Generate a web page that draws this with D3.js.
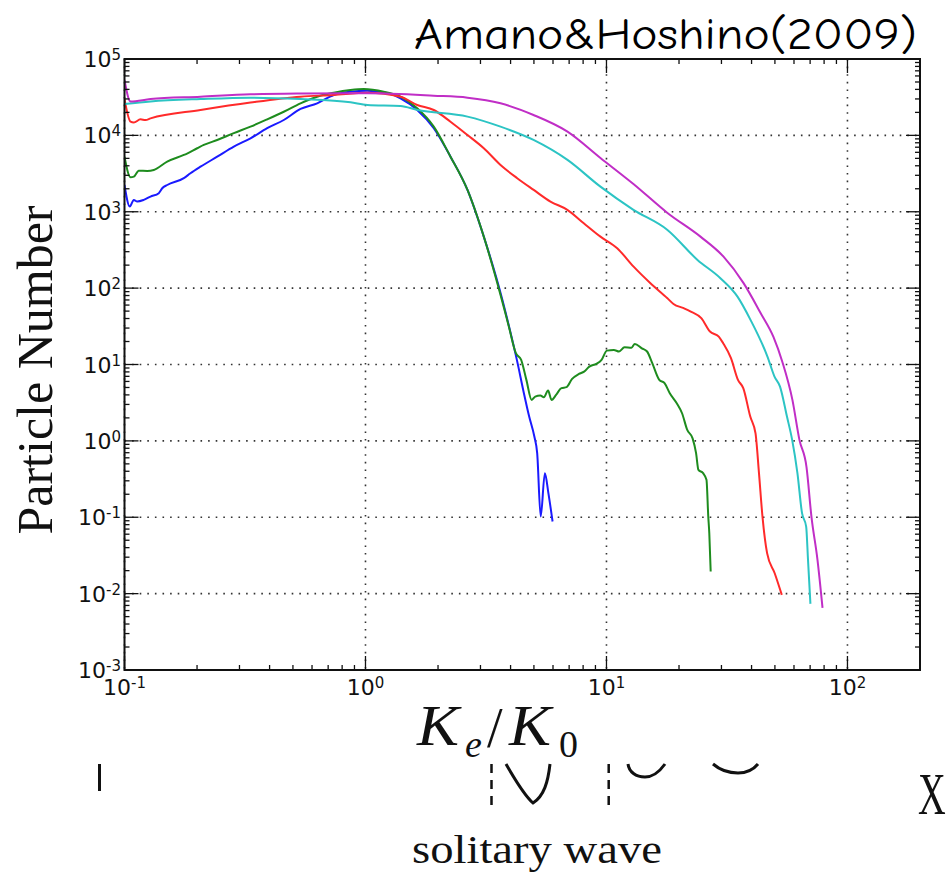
<!DOCTYPE html>
<html>
<head>
<meta charset="utf-8">
<script src="https://cdn.jsdelivr.net/npm/d3@7"></script>
<style>
  body { margin: 0; background: #fff; }
  svg { display: block; }
</style>
</head>
<body>
<svg id="chart" width="949" height="872"></svg>
<script>
// electron energy spectra (K_e/K_0, particle number)
const blueSeries = [
  [0.1, 2240], [0.1052, 1170], [0.1093, 1430], [0.1129, 1360], [0.1202, 1430],
  [0.1282, 1580], [0.1388, 1750], [0.1434, 2030], [0.1504, 2240], [0.1763, 2750],
  [0.1878, 3190], [0.2067, 3890], [0.2425, 5260], [0.2842, 7120], [0.3333, 9160],
  [0.3909, 12400], [0.4581, 15900], [0.5375, 22200], [0.6302, 26300], [0.7389, 33800],
  [0.8666, 37300], [1.016, 38500], [1.191, 36650], [1.397, 30600], [1.639, 21500],
  [1.92, 12400], [2.253, 5260], [2.65, 1930], [3.097, 472], [3.70, 70],
  [3.973, 28.4], [4.248, 11.5], [4.543, 4.21], [4.778, 2.08], [5.02, 1.14],
  [5.158, 0.69], [5.334, 0.102], [5.551, 0.378], [5.741, 0.207], [5.975, 0.088]
];
const greenSeries = [
  [0.1, 5260], [0.1059, 2830], [0.1093, 2880], [0.1146, 3450], [0.1242, 3420],
  [0.1323, 3520], [0.1504, 4530], [0.1763, 5540], [0.2003, 6780], [0.2133, 7490],
  [0.2425, 8710], [0.2842, 10700], [0.3333, 13000], [0.3909, 16200], [0.4581, 20400],
  [0.5375, 26300], [0.6302, 32100], [0.7389, 36200], [0.8666, 39300], [0.9838, 40500],
  [1.191, 37300], [1.397, 32100], [1.639, 22600], [1.92, 13000], [2.253, 5260],
  [2.65, 1930], [3.097, 472], [3.681, 70.1], [3.936, 31.3], [4.207, 14.1],
  [4.426, 11.5], [4.652, 6.29], [4.894, 3.44], [5.06, 3.80], [5.317, 3.92],
  [5.498, 3.73], [5.724, 4.55], [5.918, 3.44], [6.178, 4.0], [6.50, 4.90],
  [6.83, 5.05], [7.186, 6.42], [7.686, 7.53], [8.077, 8.07], [8.49, 9.39],
  [9.08, 10.2], [9.54, 11.5], [10.04, 15.2], [10.73, 15.5], [11.28, 14.8],
  [11.88, 16.8], [12.70, 16.6], [13.11, 18.6], [14.02, 16.3], [14.74, 14.8],
  [15.49, 10.4], [16.56, 6.29], [17.42, 5.69], [18.31, 4.21], [19.57, 3.11],
  [20.59, 2.30], [21.64, 1.39], [22.77, 1.08], [23.54, 0.69], [24.08, 0.417],
  [25.17, 0.378], [26.0, 0.309], [26.45, 0.102], [26.71, 0.0619], [27.07, 0.0195]
];
const redSeries = [
  [0.1, 29700], [0.1059, 15100], [0.1093, 14700], [0.1165, 16200], [0.1222, 15900],
  [0.1282, 16700], [0.2067, 21500], [0.3333, 26900], [0.5375, 32100], [0.736, 33800],
  [1.019, 36200], [1.397, 32100], [1.639, 25000], [1.92, 21500], [2.253, 15100],
  [2.65, 10100], [3.097, 6780], [3.634, 4100], [4.262, 2750], [4.99, 1930],
  [5.855, 1360], [6.88, 1060], [8.05, 707], [9.44, 472], [11.08, 333],
  [12.96, 191], [15.22, 116], [17.9, 73.8], [18.97, 62.1], [20.93, 54.6],
  [22.38, 49.3], [24.74, 40.4], [26.89, 27.0], [29.24, 23.2], [30.5, 19.0],
  [32.86, 12.1], [35.13, 6.29], [36.95, 4.90], [39.51, 2.08], [41.53, 1.26],
  [42.94, 0.378], [44.4, 0.102], [46.4, 0.0339], [49.9, 0.0185], [53.4, 0.00964]
];
const cyanSeries = [
  [0.1, 25800], [0.1282, 27800], [0.2067, 29900], [0.3333, 31200], [0.5375, 29900],
  [0.8666, 27100], [1.019, 25000], [1.397, 24300], [1.644, 21500], [2.65, 17600],
  [3.634, 13000], [4.98, 8710], [6.89, 4770], [9.44, 2130], [12.94, 1060],
  [17.91, 578], [23.86, 234], [29.7, 135], [34.97, 77.4], [39.6, 38.4],
  [46.6, 12.6], [49.8, 6.95], [52.5, 5.14], [56.1, 2.08], [58.96, 1.03],
  [62.0, 0.378], [64.8, 0.113], [67.4, 0.0755], [68.6, 0.0277], [70.2, 0.00735]
];
const magentaSeries = [
  [0.1, 53100], [0.1059, 27800], [0.1282, 29900], [0.2067, 32100], [0.3333, 34500],
  [0.5375, 35300], [1.019, 35600], [1.915, 33100], [2.65, 31200], [3.634, 26300],
  [4.98, 18500], [6.89, 11200], [9.44, 5060], [12.94, 2310], [17.91, 964],
  [24.55, 472], [30.6, 258], [37.0, 117], [43.6, 47.3], [49.3, 23.0],
  [53.7, 10.8], [59.1, 3.44], [63.2, 1.03], [67.6, 0.457], [70.9, 0.101],
  [75.1, 0.0277], [78.8, 0.00652]
];
const seriesColors = ["#1a1aff", "#1e8c1e", "#ff2a2a", "#2cc4c4", "#c02ec6"];
const xDomain = [0.1, 200];
const yDomain = [1e-3, 1e5];

const titleText = "Amano&Hoshino(2009)";
const yLabelText = "Particle Number";
const sketchNote = "solitary wave";

const svg = d3.select("#chart");
const plot = { left: 124.5, right: 920, top: 59, bottom: 670 };

const x = d3.scaleLog().domain(xDomain).range([plot.left, plot.right]);
const y = d3.scaleLog().domain(yDomain).range([plot.bottom, plot.top]);

const isMajor = (v) => Math.abs(Math.log10(v) - Math.round(Math.log10(v))) < 1e-9;

// dotted grid at the decades
const grid = svg.append("g").attr("stroke", "#333").attr("stroke-width", 1.6)
  .attr("stroke-dasharray", "1.6,6");
x.ticks().filter(isMajor).forEach((v) => {
  grid.append("line").attr("x1", x(v)).attr("x2", x(v))
    .attr("y1", plot.top).attr("y2", plot.bottom);
});
y.ticks().filter(isMajor).forEach((v) => {
  grid.append("line").attr("x1", plot.left).attr("x2", plot.right)
    .attr("y1", y(v)).attr("y2", y(v));
});

// spectra
svg.append("clipPath").attr("id", "plotclip").append("rect")
  .attr("x", plot.left).attr("y", plot.top)
  .attr("width", plot.right - plot.left).attr("height", plot.bottom - plot.top);

const line = d3.line()
  .x((d) => x(d[0]))
  .y((d) => y(d[1]))
  .curve(d3.curveMonotoneX);

const allSeries = [blueSeries, greenSeries, redSeries, cyanSeries, magentaSeries];
svg.append("g").attr("clip-path", "url(#plotclip)")
  .selectAll("path").data(allSeries).join("path")
  .attr("d", line)
  .attr("fill", "none")
  .attr("stroke", (d, i) => seriesColors[i])
  .attr("stroke-width", 2)
  .attr("stroke-linejoin", "round");

// inward ticks on all four sides
const ticks = svg.append("g").attr("stroke", "#111").attr("stroke-width", 1.3);
x.ticks().forEach((v) => {
  const len = isMajor(v) ? 14 : 5;
  const px = x(v);
  ticks.append("line").attr("x1", px).attr("x2", px).attr("y1", plot.bottom).attr("y2", plot.bottom - len);
  ticks.append("line").attr("x1", px).attr("x2", px).attr("y1", plot.top).attr("y2", plot.top + len);
});
y.ticks().forEach((v) => {
  const len = isMajor(v) ? 14 : 5;
  const py = y(v);
  ticks.append("line").attr("x1", plot.left).attr("x2", plot.left + len).attr("y1", py).attr("y2", py);
  ticks.append("line").attr("x1", plot.right).attr("x2", plot.right - len).attr("y1", py).attr("y2", py);
});

// frame
svg.append("rect")
  .attr("x", plot.left).attr("y", plot.top)
  .attr("width", plot.right - plot.left).attr("height", plot.bottom - plot.top)
  .attr("fill", "none").attr("stroke", "#111").attr("stroke-width", 2);

// tick labels: 10 with a raised exponent
function powerLabel(g, v, px, py, anchor) {
  const t = g.append("text").attr("x", px).attr("y", py)
    .attr("text-anchor", anchor)
    .attr("font-family", "'DejaVu Sans', sans-serif")
    .attr("font-size", 22).attr("fill", "#111");
  t.append("tspan").text("10");
  t.append("tspan").attr("dy", -7).attr("font-size", 15)
    .text(String(Math.round(Math.log10(v))));
}
const labels = svg.append("g");
x.ticks().filter(isMajor).forEach((v) => powerLabel(labels, v, x(v), 695, "middle"));
y.ticks().filter(isMajor).forEach((v) => powerLabel(labels, v, 121, y(v) + 8, "end"));

// axis titles
svg.append("text")
  .attr("transform", "translate(52,370) rotate(-90)")
  .attr("text-anchor", "middle")
  .attr("font-family", "'Liberation Serif', 'Times New Roman', serif")
  .attr("font-size", 50).attr("fill", "#111")
  .text(yLabelText);

const xl = svg.append("g").attr("font-family", "'Liberation Serif', 'Times New Roman', serif")
  .attr("fill", "#111");
xl.append("text").attr("x", 417).attr("y", 745).attr("font-size", 56)
  .attr("font-style", "italic").attr("textLength", 42).attr("lengthAdjust", "spacingAndGlyphs").text("K");
xl.append("text").attr("x", 465).attr("y", 757).attr("font-size", 38)
  .attr("font-style", "italic").text("e");
xl.append("text").attr("x", 487).attr("y", 747).attr("font-size", 56).text("/");
xl.append("text").attr("x", 509).attr("y", 745).attr("font-size", 56)
  .attr("font-style", "italic").attr("textLength", 42).attr("lengthAdjust", "spacingAndGlyphs").text("K");
xl.append("text").attr("x", 559).attr("y", 757).attr("font-size", 38).text("0");

// title
svg.append("text")
  .attr("x", 414).attr("y", 49)
  .attr("font-family", "'Comic Sans MS', 'Comic Neue', 'DejaVu Sans', sans-serif")
  .attr("font-size", 45).attr("fill", "#000")
  .attr("textLength", 503).attr("lengthAdjust", "spacingAndGlyphs")
  .text(titleText);

// cropped sketch of the wave profile under the plot
const sketch = svg.append("g").attr("fill", "none").attr("stroke", "#111")
  .attr("stroke-width", 3).attr("stroke-linecap", "butt");
const sketchStrokes = [
  "M99.5,764 L99.5,791",
  "M506,764 C514,778 524,795 533,803 C544,796 548,782 550,764",
  "M628,764 C629,772 636,777 645,777 C654,777 660,771 665,764",
  "M713,764 C720,770 730,773 738,773 C746,773 753,770 758,764"
];
sketchStrokes.forEach((d) => sketch.append("path").attr("d", d));
[491.5, 608.7].forEach((px) => {
  sketch.append("line").attr("x1", px).attr("x2", px).attr("y1", 764).attr("y2", 808)
    .attr("stroke-width", 2.5).attr("stroke-dasharray", "9,7");
});
svg.append("text")
  .attr("transform", "translate(918,814) scale(0.64,1)")
  .attr("font-family", "'Liberation Serif', serif").attr("font-size", 60)
  .attr("fill", "#111").text("X");
svg.append("text").attr("x", 412).attr("y", 863)
  .attr("font-family", "'Liberation Serif', serif").attr("font-size", 40)
  .attr("textLength", 250).attr("lengthAdjust", "spacingAndGlyphs")
  .attr("fill", "#111").text(sketchNote);
</script>
</body>
</html>
